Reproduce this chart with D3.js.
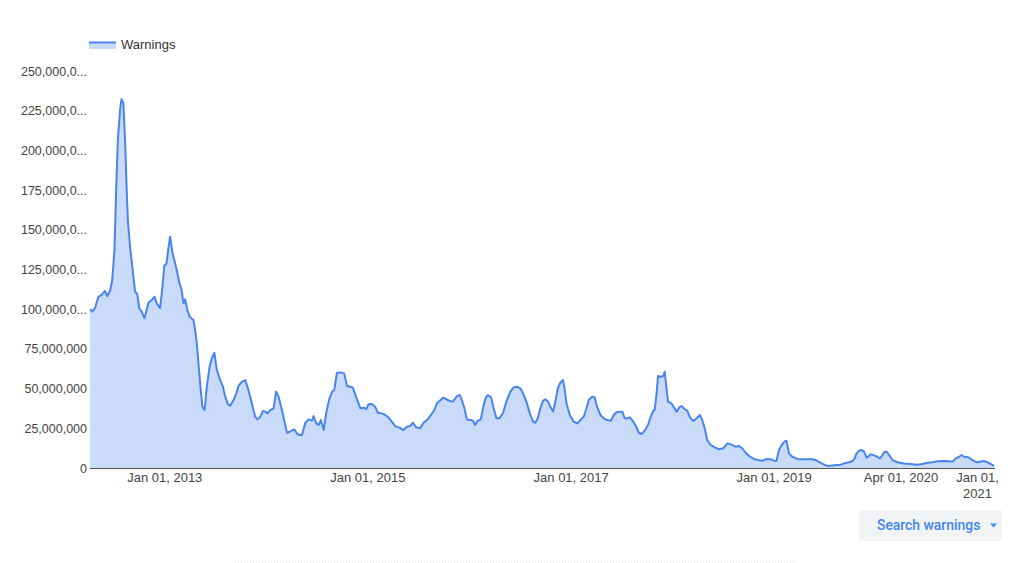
<!DOCTYPE html>
<html><head><meta charset="utf-8">
<script src="https://cdn.jsdelivr.net/npm/d3@7"></script>
<style>html,body{margin:0;padding:0;background:#fff;}svg{display:block;}</style>
</head><body>
<svg id="chart" width="1024" height="563"></svg>
<script>
const seriesName = "Warnings";
const buttonLabel = "Search warnings";

const dates = [
"2012-04-09","2012-04-17","2012-04-27","2012-05-09","2012-05-21","2012-06-02","2012-06-10","2012-06-20","2012-06-28","2012-07-06",
"2012-07-12","2012-07-18","2012-07-26","2012-07-31","2012-08-07","2012-08-13","2012-08-19","2012-08-23","2012-08-31","2012-09-10",
"2012-09-18","2012-09-26","2012-10-03","2012-10-12","2012-10-22","2012-11-05","2012-11-17","2012-11-27","2012-12-05","2012-12-17",
"2012-12-25","2013-01-01","2013-01-09","2013-01-15","2013-01-22","2013-01-31","2013-02-09","2013-02-16","2013-02-25","2013-03-04",
"2013-03-11","2013-03-17","2013-03-25","2013-04-02","2013-04-16","2013-04-22","2013-04-28","2013-05-04","2013-05-10","2013-05-18",
"2013-05-26","2013-06-03","2013-06-13","2013-06-21","2013-06-30","2013-07-09","2013-07-21","2013-07-31","2013-08-08","2013-08-18",
"2013-08-26","2013-09-07","2013-09-17","2013-09-25","2013-10-07","2013-10-19","2013-10-27","2013-11-06","2013-11-16","2013-11-24",
"2013-12-02","2013-12-12","2013-12-22","2013-12-30","2014-01-07","2014-01-17","2014-01-29","2014-02-07","2014-02-16","2014-02-28",
"2014-03-08","2014-03-18","2014-03-30","2014-04-13","2014-04-24","2014-05-03","2014-05-11","2014-05-23","2014-06-04","2014-06-16",
"2014-06-22","2014-07-01","2014-07-10","2014-07-18","2014-07-28","2014-08-06","2014-08-17","2014-08-27","2014-09-04","2014-09-14",
"2014-09-26","2014-10-10","2014-10-20","2014-11-01","2014-11-10","2014-11-22","2014-12-07","2014-12-19","2014-12-28","2015-01-05",
"2015-01-17","2015-01-29","2015-02-08","2015-02-22","2015-03-06","2015-03-18","2015-03-30","2015-04-11","2015-04-27","2015-05-11",
"2015-05-23","2015-06-04","2015-06-14","2015-06-26","2015-07-10","2015-07-22","2015-08-06","2015-08-18","2015-08-30","2015-09-08",
"2015-09-18","2015-09-30","2015-10-12","2015-10-24","2015-11-05","2015-11-19","2015-11-29","2015-12-07","2015-12-16","2015-12-25",
"2016-01-06","2016-01-16","2016-01-24","2016-02-01","2016-02-13","2016-02-22","2016-03-01","2016-03-09","2016-03-21","2016-03-30",
"2016-04-09","2016-04-21","2016-05-03","2016-05-15","2016-05-29","2016-06-10","2016-06-22","2016-07-04","2016-07-14","2016-07-26",
"2016-08-07","2016-08-19","2016-08-27","2016-09-05","2016-09-14","2016-09-24","2016-10-02","2016-10-12","2016-10-20","2016-10-30",
"2016-11-08","2016-11-16","2016-11-25","2016-12-04","2016-12-10","2016-12-17","2016-12-29","2017-01-12","2017-01-25","2017-02-05",
"2017-02-17","2017-02-27","2017-03-07","2017-03-19","2017-03-28","2017-04-06","2017-04-18","2017-04-30","2017-05-12","2017-05-26",
"2017-06-05","2017-06-15","2017-06-27","2017-07-06","2017-07-14","2017-07-24","2017-08-02","2017-08-14","2017-08-26","2017-09-03",
"2017-09-13","2017-09-24","2017-10-06","2017-10-16","2017-10-25","2017-10-30","2017-11-06","2017-11-11","2017-11-21","2017-11-30",
"2017-12-05","2017-12-11","2017-12-17","2017-12-29","2018-01-06","2018-01-17","2018-01-28","2018-02-04","2018-02-15","2018-02-24",
"2018-03-06","2018-03-18","2018-03-30","2018-04-11","2018-04-19","2018-04-28","2018-05-07","2018-05-19","2018-06-03","2018-06-18",
"2018-07-04","2018-07-18","2018-08-02","2018-08-17","2018-08-29","2018-09-10","2018-09-22","2018-10-08","2018-10-22","2018-11-05",
"2018-11-21","2018-12-07","2018-12-21","2019-01-02","2019-01-11","2019-01-20","2019-02-01","2019-02-09","2019-02-16","2019-02-25",
"2019-03-09","2019-03-27","2019-04-14","2019-05-02","2019-05-20","2019-06-01","2019-06-16","2019-07-03","2019-07-19","2019-08-06",
"2019-08-30","2019-09-11","2019-09-29","2019-10-11","2019-10-19","2019-10-26","2019-11-04","2019-11-13","2019-11-22","2019-12-01",
"2019-12-07","2019-12-16","2019-12-28","2020-01-09","2020-01-18","2020-01-27","2020-02-04","2020-02-11","2020-02-20","2020-03-03",
"2020-03-21","2020-04-14","2020-05-08","2020-05-30","2020-06-19","2020-07-07","2020-07-25","2020-08-12","2020-08-30","2020-09-23",
"2020-10-05","2020-10-17","2020-10-29","2020-11-07","2020-11-15","2020-11-30","2020-12-16","2020-12-31","2021-01-12","2021-01-26",
"2021-02-08","2021-02-22","2021-03-03"
];

// Weekly warnings, in millions
const warningsMillions = [
100.1,98.5,100.8,107.7,109,111.5,108.3,111.5,118.4,137.3,
175,206.5,225.4,232.2,229.7,206.5,175,156.2,139.4,123.6,
111,109.6,100.6,98.5,94.3,104.1,105.8,107.9,103.7,100.6,
113.2,127.2,128.9,137.3,145.7,135,129,123.6,116,112.5,
103.7,106.2,99.5,95.3,93.2,86.9,78.5,65.9,53.3,38.6,
36.5,51.2,63.8,69.1,72.6,61.7,55.4,51.2,44.9,40.1,
39.2,42.8,47,51.8,54.3,55.4,51.2,44.9,37.6,32.3,
30.6,32.3,35.9,35.5,34.4,36.5,37.6,48,44.9,36.5,
30.2,22.2,23,24.4,21.5,20.8,20.8,28.5,30.6,29.8,
32.7,28.1,27.1,30.2,23.9,34.4,43.3,48,49.1,60,
60.2,59.6,51.6,51.2,50.6,44.5,37.6,38,37,40.1,
40.3,38.6,34.8,34.4,33.4,31.9,29.2,26.4,25.4,23.9,
26,26.4,28.5,25.6,25,28.5,30.6,33.4,36.5,40.7,
42.2,44.3,43.3,42.2,41.8,45.3,46,42.8,37.6,30.6,
30.2,29.8,27.1,29.6,30.6,38.6,44,46,44.5,37.6,
31.3,31.3,34.8,41.8,48,50.8,51.2,50.2,47,41.8,
34.4,29.2,28.5,31.3,37.6,42.4,43.3,41.8,38.6,35.5,
42.8,50.2,53.7,55.4,50.2,40.7,33.4,29.2,28.1,30.2,
32.3,37.6,42.8,44.9,44.5,38.6,33.4,31.3,30.2,29.8,
33.4,35.1,35.5,35.5,31.3,31.3,31.9,29.2,25.6,22.2,
21.4,23.5,27.1,32.3,36.1,36.5,47,57.9,57.5,57.9,
60.6,51.2,41.8,40.7,38.5,35.5,38.5,39,37,36.1,
31.9,29.6,31.3,33.4,30.2,25,17.6,14.5,13,11.8,
12.4,15.5,14.7,13.4,13.9,12.4,9.6,7.1,5.7,5,
4.6,5.7,5.5,4.6,4.4,11.3,15.1,16.6,17.2,9.2,
7.1,5.7,5.5,5.5,5.5,5,3.6,1.9,1.3,1.7,
2.1,2.9,3.6,4.4,6.1,9.2,10.9,11.3,10.3,6.5,
7.1,8.6,8,7.1,6.1,8.2,10.3,10.3,8.2,5,
3.6,2.9,2.5,2.1,2.5,3.3,3.6,4.2,4.4,4.2,
4,6.1,7.1,8.2,7.1,6.7,5,3.6,4,4.4,
3.6,2.3,1.3
];

const yTickValuesMillions = [0,25,50,75,100,125,150,175,200,225,250];
const yTickLabels = ["0","25,000,000","50,000,000","75,000,000","100,000,0...","125,000,0...","150,000,0...","175,000,0...","200,000,0...","225,000,0...","250,000,0..."];
const xTickDates = ["2013-01-01","2015-01-01","2017-01-01","2019-01-01","2020-04-01","2021-01-01"];
const xTickLabels = [["Jan 01, 2013"],["Jan 01, 2015"],["Jan 01, 2017"],["Jan 01, 2019"],["Apr 01, 2020"],["Jan 01,","2021"]];

const parse = d3.timeParse("%Y-%m-%d");
const data = dates.map((d, i) => ({date: parse(d), value: warningsMillions[i] * 1e6}));

const svg = d3.select("#chart");
const plot = {left: 90, right: 994, top: 71, bottom: 468};
const x = d3.scaleTime().domain(d3.extent(data, d => d.date)).range([plot.left, plot.right]);
const y = d3.scaleLinear().domain([0, 250e6]).range([plot.bottom, plot.top]);

const blue = "#4a84ee";
const fillBlue = "#c9dbf8";
const textFont = "'Liberation Sans', Arial, sans-serif";

// area + line
svg.append("path").datum(data)
  .attr("fill", fillBlue)
  .attr("d", d3.area().x(d => x(d.date)).y0(y(0)).y1(d => y(d.value)));
svg.append("path").datum(data)
  .attr("fill", "none").attr("stroke", blue).attr("stroke-width", 2)
  .attr("stroke-linejoin", "round")
  .attr("d", d3.line().x(d => x(d.date)).y(d => y(d.value)));

// y axis
const yAxis = svg.append("g").attr("transform", `translate(${plot.left},0)`)
  .call(d3.axisLeft(y).tickValues(yTickValuesMillions.map(v => v * 1e6))
    .tickFormat((d, i) => yTickLabels[i]).tickSize(0).tickPadding(3));
yAxis.select(".domain").remove();
yAxis.selectAll("text").attr("font-family", textFont).attr("font-size", 12.5).attr("fill", "#444");

// x axis
const xAxis = svg.append("g").attr("transform", `translate(0,${plot.bottom})`)
  .call(d3.axisBottom(x).tickValues(xTickDates.map(parse)).tickSize(0).tickFormat(""));
xAxis.select(".domain").remove();
xAxis.selectAll(".tick").each(function(d, i) {
  const t = d3.select(this).select("text")
    .attr("y", 14).attr("dy", 0)
    .attr("font-family", textFont).attr("font-size", 13).attr("fill", "#444")
    .attr("text-anchor", "middle");
  xTickLabels[i].forEach((line, k) => {
    t.append("tspan").attr("x", 0).attr("y", 14 + k * 15.5).text(line);
  });
});

// baseline
svg.append("line")
  .attr("x1", plot.left).attr("x2", plot.right + 1)
  .attr("y1", y(0) + 0.5).attr("y2", y(0) + 0.5)
  .attr("stroke", "#555").attr("stroke-width", 1);

// legend
const lg = svg.append("g").attr("transform", "translate(89,42)");
lg.append("rect").attr("x", 0).attr("y", 0).attr("width", 27).attr("height", 7).attr("fill", fillBlue);
lg.append("line").attr("x1", 0).attr("x2", 27).attr("y1", 0.5).attr("y2", 0.5).attr("stroke", blue).attr("stroke-width", 2);
lg.append("text").attr("x", 32).attr("y", 6.5).text(seriesName)
  .attr("font-family", textFont).attr("font-size", 13).attr("fill", "#333");

// button
const btn = svg.append("g").attr("transform", "translate(859,510)");
btn.append("rect").attr("width", 143).attr("height", 31).attr("rx", 2).attr("fill", "#f1f3f4");
btn.append("text").attr("x", 18).attr("y", 20).text(buttonLabel)
  .attr("font-family", "Roboto, 'Noto Sans', sans-serif").attr("font-weight", 500)
  .attr("font-size", 13.9).attr("fill", "#4285f4");
btn.append("path").attr("d", "M131,13.5 L138,13.5 L134.5,17.5 Z").attr("fill", "#4285f4");

// faint dotted divider at bottom
svg.append("line").attr("x1", 235).attr("x2", 795).attr("y1", 562.5).attr("y2", 562.5)
  .attr("stroke", "#e3e3e3").attr("stroke-dasharray", "1,2");
</script>
</body></html>
